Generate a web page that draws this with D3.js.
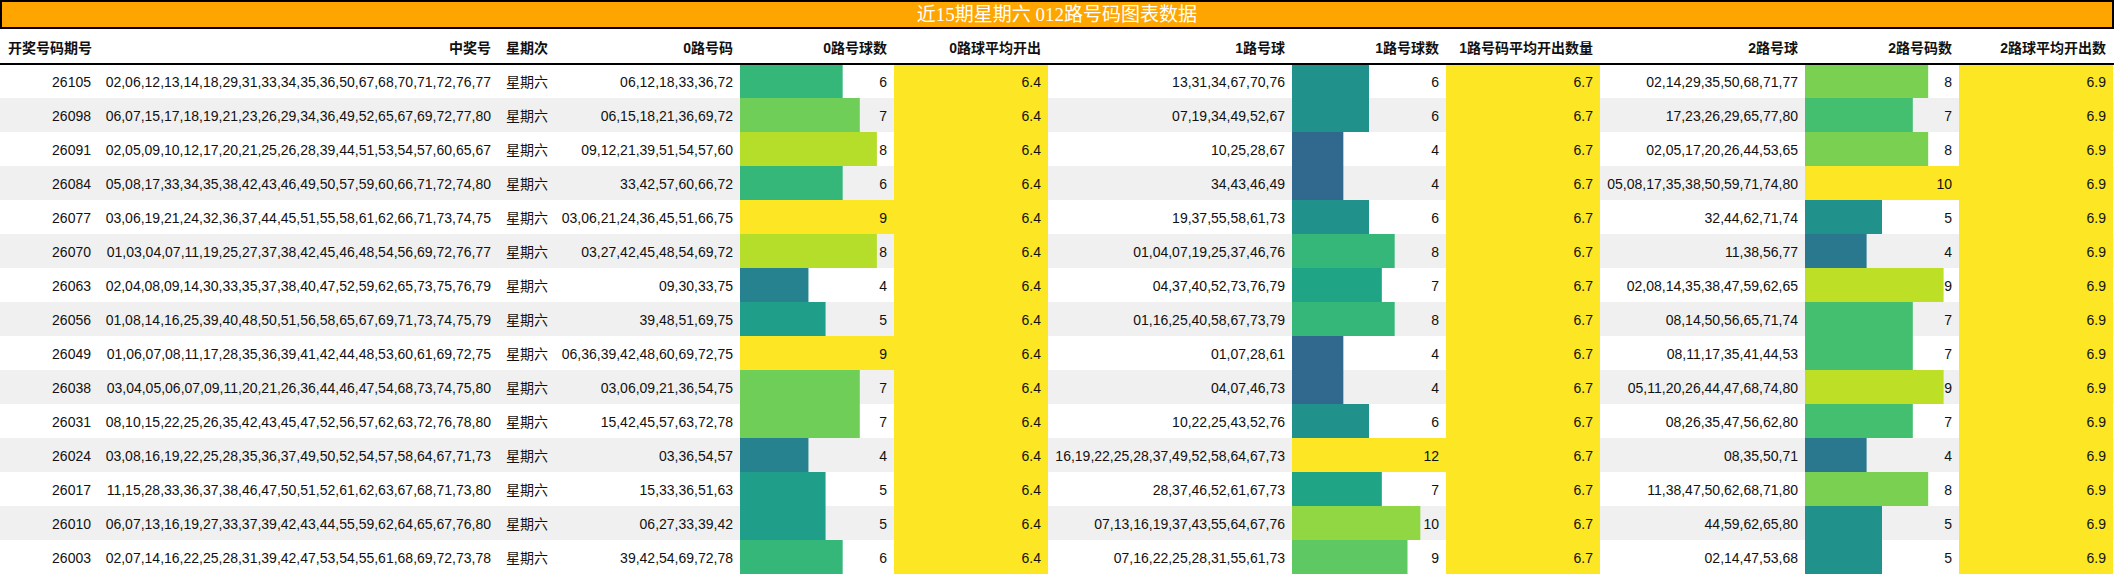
<!DOCTYPE html>
<html lang="zh">
<head>
<meta charset="UTF-8">
<title>近15期星期六 012路号码图表数据</title>
<style>
    body { margin: 0; background: #fff; }
    svg text { font-family: "Liberation Sans", Arial, "Noto Sans CJK SC", sans-serif; font-size: 14px; fill: #111; }
    svg .head text { font-weight: bold; }
    svg .title { font-family: "Liberation Serif", "Noto Sans CJK SC", serif; font-size: 19px; fill: #fff; }
</style>
</head>
<body>
<script src="https://cdn.jsdelivr.net/npm/d3@7/dist/d3.min.js"></script>
<script>
    var issues = ['26105', '26098', '26091', '26084', '26077', '26070', '26063', '26056',
        '26049', '26038', '26031', '26024', '26017', '26010', '26003'];

    var draws = [
        '02,06,12,13,14,18,29,31,33,34,35,36,50,67,68,70,71,72,76,77',
        '06,07,15,17,18,19,21,23,26,29,34,36,49,52,65,67,69,72,77,80',
        '02,05,09,10,12,17,20,21,25,26,28,39,44,51,53,54,57,60,65,67',
        '05,08,17,33,34,35,38,42,43,46,49,50,57,59,60,66,71,72,74,80',
        '03,06,19,21,24,32,36,37,44,45,51,55,58,61,62,66,71,73,74,75',
        '01,03,04,07,11,19,25,27,37,38,42,45,46,48,54,56,69,72,76,77',
        '02,04,08,09,14,30,33,35,37,38,40,47,52,59,62,65,73,75,76,79',
        '01,08,14,16,25,39,40,48,50,51,56,58,65,67,69,71,73,74,75,79',
        '01,06,07,08,11,17,28,35,36,39,41,42,44,48,53,60,61,69,72,75',
        '03,04,05,06,07,09,11,20,21,26,36,44,46,47,54,68,73,74,75,80',
        '08,10,15,22,25,26,35,42,43,45,47,52,56,57,62,63,72,76,78,80',
        '03,08,16,19,22,25,28,35,36,37,49,50,52,54,57,58,64,67,71,73',
        '11,15,28,33,36,37,38,46,47,50,51,52,61,62,63,67,68,71,73,80',
        '06,07,13,16,19,27,33,37,39,42,43,44,55,59,62,64,65,67,76,80',
        '02,07,14,16,22,25,28,31,39,42,47,53,54,55,61,68,69,72,73,78'];

    var weekdays = ['星期六', '星期六', '星期六', '星期六', '星期六', '星期六', '星期六', '星期六',
        '星期六', '星期六', '星期六', '星期六', '星期六', '星期六', '星期六'];

    var road0 = ['06,12,18,33,36,72', '06,15,18,21,36,69,72', '09,12,21,39,51,54,57,60',
        '33,42,57,60,66,72', '03,06,21,24,36,45,51,66,75', '03,27,42,45,48,54,69,72',
        '09,30,33,75', '39,48,51,69,75', '06,36,39,42,48,60,69,72,75', '03,06,09,21,36,54,75',
        '15,42,45,57,63,72,78', '03,36,54,57', '15,33,36,51,63', '06,27,33,39,42',
        '39,42,54,69,72,78'];
    var count0 = [6, 7, 8, 6, 9, 8, 4, 5, 9, 7, 7, 4, 5, 5, 6];
    var avg0 = [6.4, 6.4, 6.4, 6.4, 6.4, 6.4, 6.4, 6.4, 6.4, 6.4, 6.4, 6.4, 6.4, 6.4, 6.4];

    var road1 = ['13,31,34,67,70,76', '07,19,34,49,52,67', '10,25,28,67', '34,43,46,49',
        '19,37,55,58,61,73', '01,04,07,19,25,37,46,76', '04,37,40,52,73,76,79',
        '01,16,25,40,58,67,73,79', '01,07,28,61', '04,07,46,73', '10,22,25,43,52,76',
        '16,19,22,25,28,37,49,52,58,64,67,73', '28,37,46,52,61,67,73',
        '07,13,16,19,37,43,55,64,67,76', '07,16,22,25,28,31,55,61,73'];
    var count1 = [6, 6, 4, 4, 6, 8, 7, 8, 4, 4, 6, 12, 7, 10, 9];
    var avg1 = [6.7, 6.7, 6.7, 6.7, 6.7, 6.7, 6.7, 6.7, 6.7, 6.7, 6.7, 6.7, 6.7, 6.7, 6.7];

    var road2 = ['02,14,29,35,50,68,71,77', '17,23,26,29,65,77,80', '02,05,17,20,26,44,53,65',
        '05,08,17,35,38,50,59,71,74,80', '32,44,62,71,74', '11,38,56,77',
        '02,08,14,35,38,47,59,62,65', '08,14,50,56,65,71,74', '08,11,17,35,41,44,53',
        '05,11,20,26,44,47,68,74,80', '08,26,35,47,56,62,80', '08,35,50,71',
        '11,38,47,50,62,68,71,80', '44,59,62,65,80', '02,14,47,53,68'];
    var count2 = [8, 7, 8, 10, 5, 4, 9, 7, 7, 9, 7, 4, 8, 5, 5];
    var avg2 = [6.9, 6.9, 6.9, 6.9, 6.9, 6.9, 6.9, 6.9, 6.9, 6.9, 6.9, 6.9, 6.9, 6.9, 6.9];

    var titleText = '近15期星期六 012路号码图表数据';

    // column layout: edges in px, type decides how the cell is painted
    var columns = [
        { name: '开奖号码期号', values: issues, x0: 0, x1: 98, type: 'text', head: 'start' },
        { name: '中奖号', values: draws, x0: 98, x1: 498, type: 'text', head: 'end' },
        { name: '星期次', values: weekdays, x0: 498, x1: 556, type: 'text', align: 'start', head: 'start' },
        { name: '0路号码', values: road0, x0: 556, x1: 740, type: 'text', head: 'end' },
        { name: '0路号球数', values: count0, x0: 740, x1: 894, type: 'bar', head: 'end' },
        { name: '0路球平均开出', values: avg0, x0: 894, x1: 1048, type: 'fill', head: 'end' },
        { name: '1路号球', values: road1, x0: 1048, x1: 1292, type: 'text', head: 'end' },
        { name: '1路号球数', values: count1, x0: 1292, x1: 1446, type: 'bar', head: 'end' },
        { name: '1路号码平均开出数量', values: avg1, x0: 1446, x1: 1600, type: 'fill', head: 'end' },
        { name: '2路号球', values: road2, x0: 1600, x1: 1805, type: 'text', head: 'end' },
        { name: '2路号码数', values: count2, x0: 1805, x1: 1959, type: 'bar', head: 'end' },
        { name: '2路球平均开出数', values: avg2, x0: 1959, x1: 2113, type: 'fill', head: 'end' }
    ];

    var width = 2114;
    var height = 576;
    var titleH = 28;
    var headBottom = 64;
    var pad = 7;

    var svg = d3.select('body')
        .append('svg')
        .attr('width', width)
        .attr('height', height);

    var y = d3.scaleBand()
        .domain(d3.range(issues.length))
        .range([headBottom, height - 2]);

    // striped rows
    svg.append('g')
        .selectAll('rect')
        .data(d3.range(issues.length))
        .enter()
        .append('rect')
        .attr('x', 0)
        .attr('y', i => y(i))
        .attr('width', width)
        .attr('height', y.bandwidth())
        .attr('fill', i => i % 2 ? '#f0f0f0' : '#ffffff');

    columns.forEach(function (col) {
        var g = svg.append('g');
        var cells = col.values.map((v, i) => ({ v: v, i: i }));

        if (col.type === 'bar' || col.type === 'fill') {
            var max = d3.max(col.values);
            var w = d3.scaleLinear().domain([0, max]).range([0, col.x1 - col.x0]);
            var color = d3.scaleSequential(d3.interpolateViridis).domain([0, max]);

            g.selectAll('rect')
                .data(cells)
                .enter()
                .append('rect')
                .attr('x', col.x0)
                .attr('y', d => y(d.i))
                .attr('width', d => col.type === 'bar' ? w(d.v) : col.x1 - col.x0)
                .attr('height', y.bandwidth())
                .attr('fill', d => color(d.v));
        }

        var left = col.align === 'start';
        g.selectAll('text')
            .data(cells)
            .enter()
            .append('text')
            .attr('x', left ? col.x0 + 8 : col.x1 - pad)
            .attr('y', d => y(d.i) + y.bandwidth() / 2 + 5.5)
            .attr('text-anchor', left ? 'start' : 'end')
            .text(d => col.type === 'fill' ? d.v.toFixed(1) : d.v);
    });

    // header
    var head = svg.append('g').attr('class', 'head');
    head.selectAll('text')
        .data(columns)
        .enter()
        .append('text')
        .attr('x', d => d.head === 'start' ? d.x0 + 8 : d.x1 - pad)
        .attr('y', 53)
        .attr('text-anchor', d => d.head)
        .text(d => d.name);

    head.append('line')
        .attr('x1', 0)
        .attr('x2', width)
        .attr('y1', headBottom)
        .attr('y2', headBottom)
        .attr('stroke', '#000')
        .attr('stroke-width', 2);

    // title bar
    svg.append('rect')
        .attr('x', 1)
        .attr('y', 1)
        .attr('width', width - 2)
        .attr('height', titleH - 1)
        .attr('fill', '#ffa500')
        .attr('stroke', '#000')
        .attr('stroke-width', 2);

    svg.append('text')
        .attr('class', 'title')
        .attr('x', width / 2)
        .attr('y', 21)
        .attr('text-anchor', 'middle')
        .text(titleText);
</script>
</body>
</html>
